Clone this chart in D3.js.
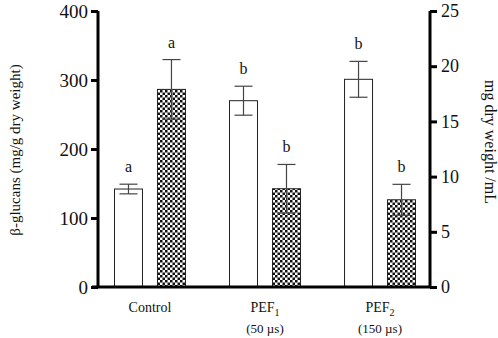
<!DOCTYPE html>
<html>
<head>
<meta charset="utf-8">
<script src="https://cdn.jsdelivr.net/npm/d3@7"></script>
<style>
  body { margin: 0; background: #fff; }
  text { font-family: "Liberation Serif", "Times New Roman", serif; fill: #111; }
</style>
</head>
<body>
<div id="chart"></div>
<script>
// groups along the x axis
const groups = ["Control", "PEF1", "PEF2"];
const groupSub = ["", "(50 µs)", "(150 µs)"];
// beta-glucans, left axis (mg/g dry weight)
const glucanValues = [142, 270, 301];
const glucanErrors = [7, 21, 26];
const glucanLetters = ["a", "b", "b"];
// dry weight, right axis (mg/mL)
const dryValues = [17.9, 8.9, 7.9];
const dryErrors = [2.7, 2.2, 1.4];
const dryLetters = ["a", "b", "b"];
const leftTicks = [0, 100, 200, 300, 400];
const rightTicks = [0, 5, 10, 15, 20, 25];

const width = 498, height = 338;
const margin = { top: 11, right: 68, bottom: 51, left: 98 };

const svg = d3.select("#chart").append("svg")
    .attr("width", width)
    .attr("height", height);

// checker pattern for the dry weight bars
const defs = svg.append("defs");
const pat = defs.append("pattern")
    .attr("id", "checker")
    .attr("patternUnits", "userSpaceOnUse")
    .attr("width", 5).attr("height", 5);
pat.append("rect").attr("width", 5).attr("height", 5).attr("fill", "#fff");
pat.append("rect").attr("x", 0).attr("y", 0).attr("width", 2.5).attr("height", 2.5).attr("fill", "#111");
pat.append("rect").attr("x", 2.5).attr("y", 2.5).attr("width", 2.5).attr("height", 2.5).attr("fill", "#111");

const x = d3.scaleBand()
    .domain(groups)
    .range([margin.left + 2, width - margin.right])
    .paddingInner(0.383)
    .paddingOuter(0.126);

const xSub = d3.scaleBand()
    .domain(["glucan", "dry"])
    .range([0, x.bandwidth()])
    .paddingInner(0.349);

const yLeft = d3.scaleLinear().domain([0, 400]).range([height - margin.bottom, margin.top]);
const yRight = d3.scaleLinear().domain([0, 25]).range([height - margin.bottom, margin.top]);

const errColor = "#444";

function drawSeries(vals, errs, letters, scale, key, fill) {
    const g = svg.append("g");
    groups.forEach((grp, i) => {
        const bx = x(grp) + xSub(key);
        const bw = xSub.bandwidth();
        const cx = bx + bw / 2;
        g.append("rect")
            .attr("x", bx)
            .attr("y", scale(vals[i]))
            .attr("width", bw)
            .attr("height", scale(0) - scale(vals[i]))
            .attr("fill", fill)
            .attr("stroke", "#222")
            .attr("stroke-width", 1);
        const top = scale(vals[i] + errs[i]);
        const bot = scale(vals[i] - errs[i]);
        g.append("line")
            .attr("x1", cx).attr("x2", cx)
            .attr("y1", top).attr("y2", bot)
            .attr("stroke", errColor).attr("stroke-width", 1.2);
        [top, bot].forEach(yy => {
            g.append("line")
                .attr("x1", cx - 9).attr("x2", cx + 9)
                .attr("y1", yy).attr("y2", yy)
                .attr("stroke", errColor).attr("stroke-width", 1.2);
        });
        g.append("text")
            .attr("x", cx)
            .attr("y", top - 12)
            .attr("text-anchor", "middle")
            .style("font-size", "16px")
            .text(letters[i]);
    });
}

drawSeries(glucanValues, glucanErrors, glucanLetters, yLeft, "glucan", "#fff");
drawSeries(dryValues, dryErrors, dryLetters, yRight, "dry", "url(#checker)");

// x axis baseline
svg.append("line")
    .attr("x1", margin.left - 6).attr("x2", width - margin.right)
    .attr("y1", yLeft(0)).attr("y2", yLeft(0))
    .attr("stroke", "#000").attr("stroke-width", 3);

// left axis
const leftAxis = svg.append("g")
    .attr("transform", `translate(${margin.left},0)`)
    .call(d3.axisLeft(yLeft).tickValues(leftTicks).tickSize(7).tickPadding(3));
leftAxis.select(".domain").attr("stroke-width", 3).attr("d", `M0,${yLeft(0)}V${yLeft(400)}`);
leftAxis.selectAll(".tick line").attr("stroke-width", 3);
leftAxis.selectAll("text")
    .style("font-size", "19px")
    .style("font-family", "Liberation Serif, serif")
    .attr("fill", "#111");

// right axis
const rightAxis = svg.append("g")
    .attr("transform", `translate(${width - margin.right},0)`)
    .call(d3.axisRight(yRight).tickValues(rightTicks).tickSize(7).tickPadding(4));
rightAxis.select(".domain").attr("stroke-width", 3).attr("d", `M0,${yRight(0)}V${yRight(25)}`);
rightAxis.selectAll(".tick line").attr("stroke-width", 3);
rightAxis.selectAll("text")
    .style("font-size", "18px")
    .style("font-family", "Liberation Serif, serif")
    .attr("fill", "#111");

// category labels
groups.forEach((grp, i) => {
    const cx = x(grp) + x.bandwidth() / 2;
    const t = svg.append("text")
        .attr("x", cx)
        .attr("y", 312)
        .attr("text-anchor", "middle")
        .style("font-size", "14px");
    if (grp === "Control") {
        t.text(grp);
    } else {
        t.append("tspan").text("PEF");
        t.append("tspan").attr("dy", 4).style("font-size", "10px").text(grp.slice(3));
        svg.append("text")
            .attr("x", cx)
            .attr("y", 333)
            .attr("text-anchor", "middle")
            .style("font-size", "13px")
            .text(groupSub[i]);
    }
});

// axis titles
svg.append("text")
    .attr("transform", `translate(20, ${150}) rotate(-90)`)
    .attr("text-anchor", "middle")
    .style("font-size", "15px")
    .text("β-glucans (mg/g dry weight)");

svg.append("text")
    .attr("transform", `translate(485, ${142}) rotate(90)`)
    .attr("text-anchor", "middle")
    .style("font-size", "16px")
    .text("mg dry weight /mL");
</script>
</body>
</html>
